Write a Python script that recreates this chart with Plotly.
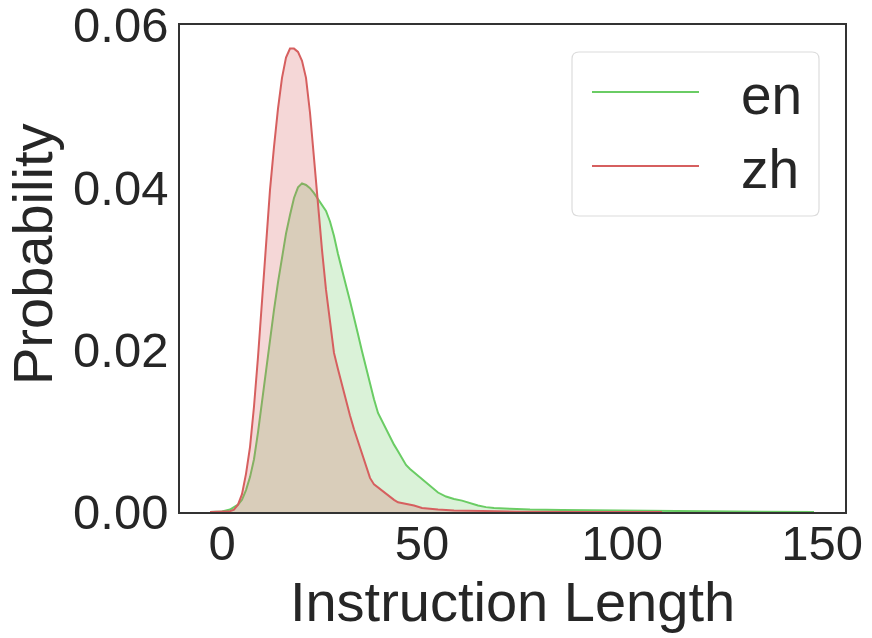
import plotly.graph_objects as go

# ---------------- data ----------------
series_names = ["en", "zh"]

en_x = [-3, 0, 2, 4, 5, 6, 7, 8, 9, 10, 11, 12, 13, 14, 15, 16, 17, 18, 19, 20,
        21, 22, 23, 24, 25, 26, 27, 28, 29, 30, 31, 32, 33, 34, 35, 36, 37, 38, 39, 40,
        41, 42, 43, 44, 45, 46, 47, 48, 49, 50, 52, 54, 56, 58, 60, 62, 64, 66, 68, 72,
        77, 85, 95, 105, 115, 125, 135, 148]
en_y = [0, 0.00005, 0.0003, 0.0009, 0.0015, 0.0027, 0.0043, 0.0065, 0.0098, 0.0137, 0.0177, 0.0214,
        0.0249, 0.0283, 0.0315, 0.0343, 0.0366, 0.0387, 0.0400, 0.0405,
        0.0403, 0.0399, 0.0393, 0.0386, 0.0379, 0.0371, 0.0358, 0.0340, 0.0318, 0.0297,
        0.0279, 0.0260, 0.0241, 0.0219, 0.0198, 0.0178, 0.0158, 0.0139, 0.0122, 0.0112,
        0.0102, 0.0092, 0.0083, 0.0075, 0.0066, 0.0058, 0.0053, 0.0049, 0.0045, 0.0041,
        0.0033, 0.0024, 0.0019, 0.0016, 0.0014, 0.0011, 0.0008, 0.0006, 0.0005, 0.0004,
        0.0003, 0.00025, 0.0002, 0.00012, 0.00008, 0.00005, 0.00003, 0]

zh_x = [-3, 0, 2, 3, 4, 5, 6, 7, 8, 9, 10, 11, 12, 13, 14, 15, 16, 17, 18, 19, 20,
        21, 22, 23, 24, 25, 26, 27, 28, 29, 30, 31, 32, 33, 34, 35, 36, 37, 38, 39, 40,
        41, 42, 43, 44, 46, 48, 50, 54, 58, 65, 75, 90, 110]
zh_y = [0, 0.00002, 0.0001, 0.0003, 0.0009, 0.0022, 0.0047, 0.0080, 0.0130, 0.0191, 0.0257,
        0.0325, 0.0397, 0.0450, 0.0497, 0.0535, 0.0560, 0.0571, 0.0571, 0.0567, 0.0556,
        0.0535, 0.0492, 0.0436, 0.0377, 0.0323, 0.0274, 0.0232, 0.0196, 0.0176, 0.0156,
        0.0137, 0.0119, 0.0102, 0.0087, 0.0072, 0.0057, 0.0042, 0.0034, 0.0030, 0.0026,
        0.0022, 0.0018, 0.0015, 0.0012, 0.0010, 0.0008, 0.0005, 0.0003, 0.0002, 0.0001,
        0.00004, 0.00001, 0]

x_ticks = [0, 50, 100, 150]
y_ticks = [0.00, 0.02, 0.04, 0.06]
x_title = "Instruction Length"
y_title = "Probability"

# ---------------- style ----------------
colors = {"en": "#6acc64", "zh": "#d65f5f"}
fills = {"en": "rgba(106,204,100,0.25)", "zh": "rgba(214,95,95,0.25)"}
FONT = "Liberation Sans, Arial, sans-serif"
TXT = "#262626"

W, H = 872, 638
ML, MR, MT, MB = 180, 27, 25, 126
PW, PH = W - ML - MR, H - MT - MB


def px_x(p):
    return (p - ML) / PW


def px_y(p):
    return (H - MB - p) / PH


fig = go.Figure()
for name, xs, ys in [("en", en_x, en_y), ("zh", zh_x, zh_y)]:
    fig.add_trace(go.Scatter(
        x=xs, y=ys, name=name, mode="lines",
        line=dict(color=colors[name], width=2),
        fill="tozeroy", fillcolor=fills[name],
        showlegend=False,
    ))

# custom legend (rounded box, long line samples)
bx0, bx1, by0, by1, r = 572, 819, 52, 216, 7
rx, ry = r / PW, r / PH
X0, X1, Y0, Y1 = px_x(bx0), px_x(bx1), px_y(by1), px_y(by0)
path = (f"M{X0+rx},{Y0} L{X1-rx},{Y0} Q{X1},{Y0} {X1},{Y0+ry} L{X1},{Y1-ry} "
        f"Q{X1},{Y1} {X1-rx},{Y1} L{X0+rx},{Y1} Q{X0},{Y1} {X0},{Y1-ry} "
        f"L{X0},{Y0+ry} Q{X0},{Y0} {X0+rx},{Y0} Z")
shapes = [dict(type="path", xref="paper", yref="paper", path=path,
               line=dict(color="#dcdcdc", width=1.2), fillcolor="rgba(255,255,255,0.8)",
               layer="above")]
annotations = []
for name, ly in zip(series_names, [92, 166]):
    shapes.append(dict(type="line", xref="paper", yref="paper",
                       x0=px_x(592), x1=px_x(699), y0=px_y(ly), y1=px_y(ly),
                       line=dict(color=colors[name], width=2), layer="above"))
    annotations.append(dict(xref="paper", yref="paper", x=px_x(739), y=px_y(ly + 3),
                            xanchor="left", yanchor="middle", text=name, showarrow=False,
                            font=dict(family=FONT, size=55, color=TXT)))

# y-axis title placed as a rotated annotation centred where the reference has it
annotations.append(dict(xref="paper", yref="paper", x=px_x(32), y=px_y(255),
                        xanchor="center", yanchor="middle", textangle=-90,
                        text=y_title, showarrow=False,
                        font=dict(family=FONT, size=56, color=TXT)))

fig.update_layout(
    width=W, height=H,
    margin=dict(l=ML, r=MR, t=MT, b=MB, pad=0, autoexpand=False),
    paper_bgcolor="white", plot_bgcolor="white",
    font=dict(family=FONT, color=TXT),
    shapes=shapes, annotations=annotations,
    showlegend=False,
)
fig.update_xaxes(
    range=[-10.5, 155.75], tickvals=x_ticks, ticktext=[str(v) for v in x_ticks],
    showgrid=False, zeroline=False, showline=True, mirror=True,
    linecolor="#333333", linewidth=1.5, ticks="", automargin=False,
    ticklabeloverflow="allow", ticklabelstandoff=-13,
    tickfont=dict(family=FONT, size=49, color=TXT),
    title=dict(text=x_title, font=dict(family=FONT, size=56, color=TXT), standoff=4),
)
fig.update_yaxes(
    range=[0, 0.06001], tickvals=y_ticks, ticktext=[f"{v:.2f}" for v in y_ticks],
    showgrid=False, zeroline=False, showline=True, mirror=True,
    linecolor="#333333", linewidth=1.5, ticks="", automargin=False,
    ticklabeloverflow="allow",
    tickfont=dict(family=FONT, size=49, color=TXT),
)

fig.write_html("out.html", config={"displayModeBar": False},
               post_script="document.body.style.margin='0px';document.body.style.overflow='hidden';")
